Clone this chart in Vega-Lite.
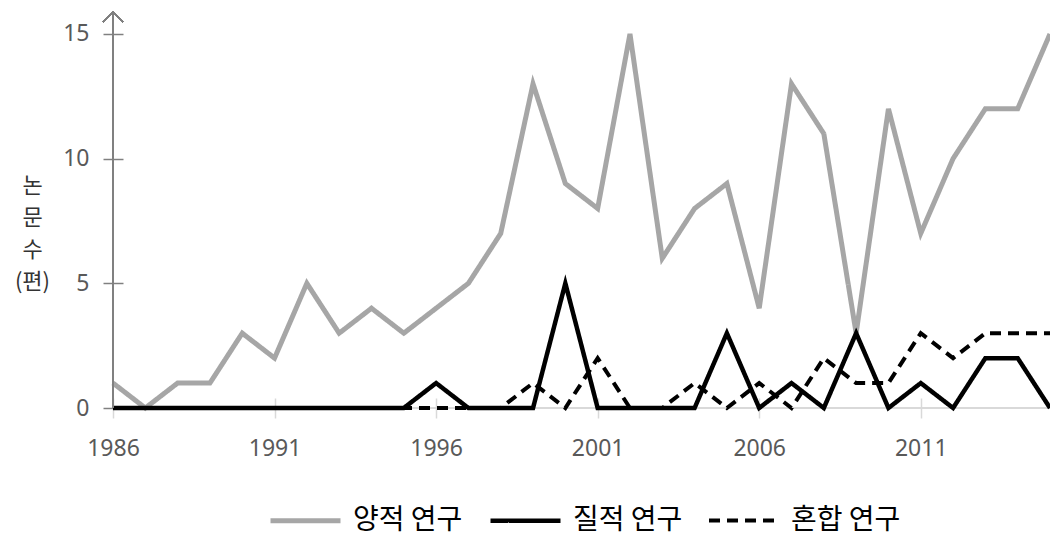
{
  "$schema": "https://vega.github.io/schema/vega-lite/v6.json",
  "width": 937,
  "height": 396,
  "autosize": {"type": "none"},
  "padding": {"left": 113, "top": 12, "right": 0, "bottom": 127},
  "background": "white",
  "config": {
    "view": {"stroke": null},
    "font": "Noto Sans",
    "axisX": {
      "domain": false, "offset": -10, "tickSize": 20, "tickColor": "#d9d9d9", "tickWidth": 1.5,
      "labelPadding": 19, "labelFontSize": 23, "labelColor": "#595959", "labelFont": "Noto Sans",
      "labelFlush": false, "grid": false
    },
    "axisY": {
      "domain": false, "offset": -10, "tickSize": 20, "tickColor": "#808080", "tickWidth": 1.5,
      "labelPadding": 14, "labelFontSize": 23, "labelColor": "#595959", "labelFont": "Noto Sans",
      "grid": false,
      "titleAngle": 0, "titleX": -91, "titleY": 173, "titleAlign": "center", "titleBaseline": "middle",
      "titleFontSize": 22, "titleLineHeight": 32, "titleFont": "Noto Sans CJK KR", "titleFontWeight": "normal",
      "titleColor": "#333333"
    },
    "legend": {
      "orient": "none", "legendX": 155, "legendY": 471, "direction": "horizontal",
      "labelFontSize": 28, "labelFont": "Noto Sans CJK KR", "labelColor": "#000000",
      "symbolType": "stroke", "symbolSize": 4900, "symbolStrokeWidth": 6,
      "labelOffset": 10, "columnPadding": 18, "labelLimit": 400, "padding": 0
    }
  },
  "data": {
    "values": [
      {"year": 1986, "type": "양적 연구", "value": 1},
      {"year": 1987, "type": "양적 연구", "value": 0},
      {"year": 1988, "type": "양적 연구", "value": 1},
      {"year": 1989, "type": "양적 연구", "value": 1},
      {"year": 1990, "type": "양적 연구", "value": 3},
      {"year": 1991, "type": "양적 연구", "value": 2},
      {"year": 1992, "type": "양적 연구", "value": 5},
      {"year": 1993, "type": "양적 연구", "value": 3},
      {"year": 1994, "type": "양적 연구", "value": 4},
      {"year": 1995, "type": "양적 연구", "value": 3},
      {"year": 1996, "type": "양적 연구", "value": 4},
      {"year": 1997, "type": "양적 연구", "value": 5},
      {"year": 1998, "type": "양적 연구", "value": 7},
      {"year": 1999, "type": "양적 연구", "value": 13},
      {"year": 2000, "type": "양적 연구", "value": 9},
      {"year": 2001, "type": "양적 연구", "value": 8},
      {"year": 2002, "type": "양적 연구", "value": 15},
      {"year": 2003, "type": "양적 연구", "value": 6},
      {"year": 2004, "type": "양적 연구", "value": 8},
      {"year": 2005, "type": "양적 연구", "value": 9},
      {"year": 2006, "type": "양적 연구", "value": 4},
      {"year": 2007, "type": "양적 연구", "value": 13},
      {"year": 2008, "type": "양적 연구", "value": 11},
      {"year": 2009, "type": "양적 연구", "value": 3},
      {"year": 2010, "type": "양적 연구", "value": 12},
      {"year": 2011, "type": "양적 연구", "value": 7},
      {"year": 2012, "type": "양적 연구", "value": 10},
      {"year": 2013, "type": "양적 연구", "value": 12},
      {"year": 2014, "type": "양적 연구", "value": 12},
      {"year": 2015, "type": "양적 연구", "value": 15},
      {"year": 1986, "type": "질적 연구", "value": 0},
      {"year": 1987, "type": "질적 연구", "value": 0},
      {"year": 1988, "type": "질적 연구", "value": 0},
      {"year": 1989, "type": "질적 연구", "value": 0},
      {"year": 1990, "type": "질적 연구", "value": 0},
      {"year": 1991, "type": "질적 연구", "value": 0},
      {"year": 1992, "type": "질적 연구", "value": 0},
      {"year": 1993, "type": "질적 연구", "value": 0},
      {"year": 1994, "type": "질적 연구", "value": 0},
      {"year": 1995, "type": "질적 연구", "value": 0},
      {"year": 1996, "type": "질적 연구", "value": 1},
      {"year": 1997, "type": "질적 연구", "value": 0},
      {"year": 1998, "type": "질적 연구", "value": 0},
      {"year": 1999, "type": "질적 연구", "value": 0},
      {"year": 2000, "type": "질적 연구", "value": 5},
      {"year": 2001, "type": "질적 연구", "value": 0},
      {"year": 2002, "type": "질적 연구", "value": 0},
      {"year": 2003, "type": "질적 연구", "value": 0},
      {"year": 2004, "type": "질적 연구", "value": 0},
      {"year": 2005, "type": "질적 연구", "value": 3},
      {"year": 2006, "type": "질적 연구", "value": 0},
      {"year": 2007, "type": "질적 연구", "value": 1},
      {"year": 2008, "type": "질적 연구", "value": 0},
      {"year": 2009, "type": "질적 연구", "value": 3},
      {"year": 2010, "type": "질적 연구", "value": 0},
      {"year": 2011, "type": "질적 연구", "value": 1},
      {"year": 2012, "type": "질적 연구", "value": 0},
      {"year": 2013, "type": "질적 연구", "value": 2},
      {"year": 2014, "type": "질적 연구", "value": 2},
      {"year": 2015, "type": "질적 연구", "value": 0},
      {"year": 1986, "type": "혼합 연구", "value": 0},
      {"year": 1987, "type": "혼합 연구", "value": 0},
      {"year": 1988, "type": "혼합 연구", "value": 0},
      {"year": 1989, "type": "혼합 연구", "value": 0},
      {"year": 1990, "type": "혼합 연구", "value": 0},
      {"year": 1991, "type": "혼합 연구", "value": 0},
      {"year": 1992, "type": "혼합 연구", "value": 0},
      {"year": 1993, "type": "혼합 연구", "value": 0},
      {"year": 1994, "type": "혼합 연구", "value": 0},
      {"year": 1995, "type": "혼합 연구", "value": 0},
      {"year": 1996, "type": "혼합 연구", "value": 0},
      {"year": 1997, "type": "혼합 연구", "value": 0},
      {"year": 1998, "type": "혼합 연구", "value": 0},
      {"year": 1999, "type": "혼합 연구", "value": 1},
      {"year": 2000, "type": "혼합 연구", "value": 0},
      {"year": 2001, "type": "혼합 연구", "value": 2},
      {"year": 2002, "type": "혼합 연구", "value": 0},
      {"year": 2003, "type": "혼합 연구", "value": 0},
      {"year": 2004, "type": "혼합 연구", "value": 1},
      {"year": 2005, "type": "혼합 연구", "value": 0},
      {"year": 2006, "type": "혼합 연구", "value": 1},
      {"year": 2007, "type": "혼합 연구", "value": 0},
      {"year": 2008, "type": "혼합 연구", "value": 2},
      {"year": 2009, "type": "혼합 연구", "value": 1},
      {"year": 2010, "type": "혼합 연구", "value": 1},
      {"year": 2011, "type": "혼합 연구", "value": 3},
      {"year": 2012, "type": "혼합 연구", "value": 2},
      {"year": 2013, "type": "혼합 연구", "value": 3},
      {"year": 2014, "type": "혼합 연구", "value": 3},
      {"year": 2015, "type": "혼합 연구", "value": 3}
    ]
  },
  "layer": [
    {
      "mark": {"type": "rule", "color": "#d9d9d9", "strokeWidth": 1.5},
      "encoding": {"y": {"datum": 0, "type": "quantitative"}}
    },
    {
      "mark": {"type": "line", "strokeJoin": "miter", "strokeCap": "butt"},
      "encoding": {
        "x": {
          "field": "year", "type": "quantitative",
          "scale": {"domain": [1986, 2015], "zero": false, "nice": false},
          "axis": {"title": null, "values": [1986, 1991, 1996, 2001, 2006, 2011], "format": "d"}
        },
        "y": {
          "field": "value", "type": "quantitative",
          "scale": {"domain": [0, 15.88], "nice": false},
          "axis": {"title": ["논", "문", "수", "(편)"], "values": [0, 5, 10, 15], "format": "d"}
        },
        "color": {
          "field": "type", "type": "nominal",
          "scale": {"domain": ["양적 연구", "질적 연구", "혼합 연구"], "range": ["#a6a6a6", "#000000", "#000000"]},
          "legend": {"title": null}
        },
        "strokeDash": {
          "field": "type", "type": "nominal",
          "scale": {"domain": ["양적 연구", "질적 연구", "혼합 연구"], "range": [[1, 0], [1, 0], [11, 7]]},
          "legend": {"title": null}
        },
        "strokeWidth": {
          "field": "type", "type": "nominal",
          "scale": {"domain": ["양적 연구", "질적 연구", "혼합 연구"], "range": [5, 4, 4]},
          "legend": null
        }
      }
    },
    {
      "mark": {"type": "rule", "color": "#808080", "strokeWidth": 1.5},
      "encoding": {"x": {"datum": 1986, "type": "quantitative"}}
    },
    {
      "mark": {"type": "point", "shape": "M -1 1 L 0 0 L 1 1", "filled": false, "stroke": "#808080", "strokeWidth": 1.5, "size": 400, "opacity": 1},
      "encoding": {
        "x": {"datum": 1986, "type": "quantitative"},
        "y": {"datum": 15.88, "type": "quantitative"}
      }
    }
  ]
}
